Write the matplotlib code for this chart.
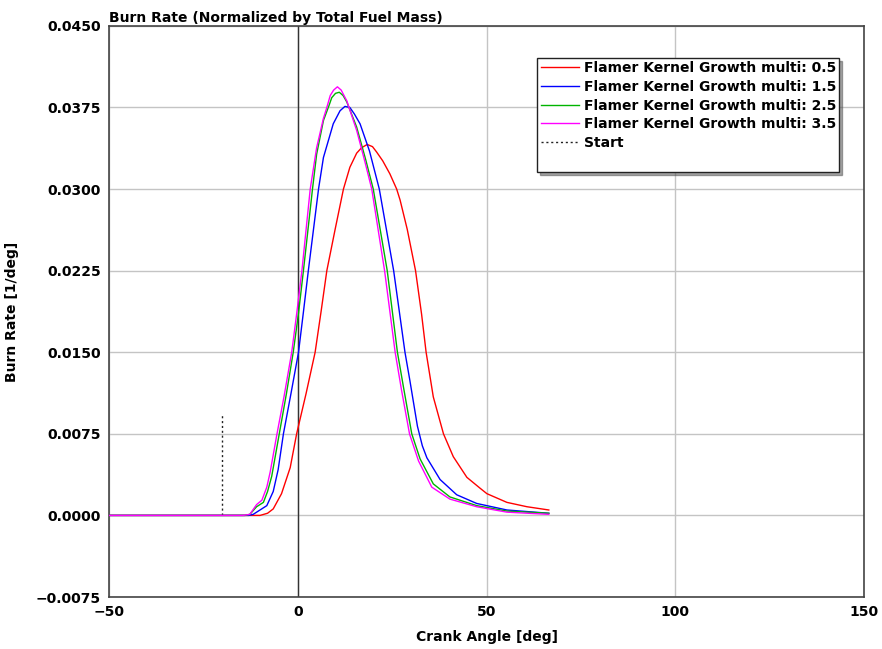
"""Burn rate vs crank angle for several flame kernel growth multipliers."""

import matplotlib

matplotlib.use("Agg")
import matplotlib.pyplot as plt
from matplotlib.lines import Line2D

# crank angle [deg] / burn rate [1/deg] per case
angle_05 = [-50, -12, -10, -8.0, -6.5, -4.3, -2.0, -0.3, 2.2, 4.6, 6.2, 7.7, 9.9, 12.1,
            13.8, 15.6, 16.9, 18.4, 19.8, 20.9, 22.5, 24.4, 26.2, 27.1, 29.0, 31.2, 32.8,
            34.0, 35.9, 38.6, 41.2, 44.8, 48.3, 50.1, 55.4, 60.7, 66.5]
rate_05 = [0.0, 0.0, 0.0, 0.0002, 0.0006, 0.0020, 0.0044, 0.0075, 0.0112, 0.0150, 0.0188,
           0.0225, 0.0263, 0.0300, 0.0320, 0.0333, 0.0338, 0.0341, 0.0339, 0.0334, 0.0326,
           0.0314, 0.0300, 0.0290, 0.0263, 0.0225, 0.0185, 0.0150, 0.0109, 0.0075, 0.0054,
           0.0035, 0.0025, 0.0020, 0.0012, 0.0008, 0.0005]

angle_15 = [-50, -13, -11.8, -10, -8.2, -6.5, -5.2, -3.8, -1.8, 0.2, 1.5, 2.8, 5.5, 6.8, 9.4,
            11.2, 12.5, 13.8, 15.0, 16.5, 19.0, 21.6, 25.4, 28.4, 29.7, 31.7, 33.0, 34.2,
            37.7, 42.1, 47.4, 55.4, 66.5]
rate_15 = [0.0, 0.0, 0.0001, 0.0005, 0.0009, 0.0022, 0.0042, 0.0075, 0.0112, 0.0150, 0.0187,
           0.0225, 0.0300, 0.0329, 0.0360, 0.0372, 0.0376, 0.0375, 0.0369, 0.0360, 0.0335,
           0.0300, 0.0225, 0.0150, 0.0124, 0.0082, 0.0064, 0.0053, 0.0033, 0.0019, 0.0011,
           0.0005, 0.0002]

angle_25 = [-50, -14, -12.7, -10.9, -9.1, -8.0, -6.9, -4.9, -3.0, -1.2, 0.2, 1.5, 3.9, 5.0,
            6.8, 8.3, 9.0, 10.0, 11.0, 12.0, 13.0, 15.6, 18.0, 20.0, 23.7, 26.4, 28.0, 30.2,
            32.4, 35.9, 40.3, 47.4, 55.4, 66.5]
rate_25 = [0.0, 0.0, 0.0001, 0.0008, 0.0012, 0.0022, 0.0036, 0.0075, 0.0112, 0.0150, 0.0186,
           0.0225, 0.0300, 0.0332, 0.0363, 0.0377, 0.0384, 0.0388, 0.0389, 0.0386, 0.0380,
           0.0357, 0.0327, 0.0300, 0.0225, 0.0150, 0.0118, 0.0075, 0.0052, 0.0029, 0.0017,
           0.0009, 0.0004, 0.0002]

angle_35 = [-50, -14.5, -12.7, -10.9, -9.5, -8.2, -7.3, -5.5, -3.6, -1.6, -0.3, 1.1, 3.3,
            5.0, 6.8, 7.7, 8.6, 9.5, 10.5, 11.5, 13.0, 15.6, 17.8, 19.6, 23.0, 25.8, 27.5,
            29.6, 32.0, 35.5, 40.3, 47.4, 55.4, 66.5]
rate_35 = [0.0, 0.0, 0.0001, 0.0010, 0.0014, 0.0026, 0.0040, 0.0075, 0.0110, 0.0150, 0.0185,
           0.0225, 0.0300, 0.0338, 0.0365, 0.0375, 0.0386, 0.0391, 0.0394, 0.0391, 0.0381,
           0.0354, 0.0325, 0.0300, 0.0225, 0.0150, 0.0115, 0.0075, 0.0050, 0.0026, 0.0015,
           0.0008, 0.0003, 0.0001]

start_angle = -20.0
start_height = 0.0094

labels = ["Flamer Kernel Growth multi: 0.5", "Flamer Kernel Growth multi: 1.5",
          "Flamer Kernel Growth multi: 2.5", "Flamer Kernel Growth multi: 3.5"]
colors = ["#ff0000", "#0000ff", "#00b400", "#ff00ff"]

x_ticks = [-50, 0, 50, 100, 150]
y_ticks = [-0.0075, 0.0, 0.0075, 0.0150, 0.0225, 0.0300, 0.0375, 0.0450]

plt.rcParams["font.family"] = ["DejaVu Sans"]
plt.rcParams["font.weight"] = "bold"

fig = plt.figure(figsize=(8.82, 6.49), dpi=100)
ax = fig.add_axes([0.1236, 0.0801, 0.856, 0.8800])

ax.grid(True, color="#c4c4c4", linewidth=1.0)
ax.set_axisbelow(True)
ax.axvline(0, color="#333333", linewidth=1.0, zorder=1)

series = [(angle_05, rate_05), (angle_15, rate_15), (angle_25, rate_25), (angle_35, rate_35)]
for (xs, ys), c in zip(series, colors):
    ax.plot(xs, ys, color=c, linewidth=1.0, zorder=3)

ax.plot([start_angle, start_angle], [0, start_height], color="#222222",
        linestyle=(0, (1.5, 2)), linewidth=1.0, zorder=2)

ax.set_xlim(-50, 150)
ax.set_ylim(-0.0075, 0.0450)
ax.set_xticks(x_ticks)
ax.set_yticks(y_ticks)
ax.set_yticklabels([f"{v:.4f}".replace("-", "\u2212") for v in y_ticks])
ax.tick_params(length=0, labelsize=10, pad=6)
for s in ax.spines.values():
    s.set_color("#444444")
    s.set_linewidth(1.2)

ax.set_xlabel("Crank Angle [deg]", fontsize=10, fontweight="bold", labelpad=8)
ax.set_ylabel("Burn Rate [1/deg]", fontsize=10, fontweight="bold", labelpad=12)
ax.set_title("Burn Rate (Normalized by Total Fuel Mass)", loc="left", fontsize=10,
             fontweight="bold", pad=3)

handles = [Line2D([], [], color=c, linewidth=1.0) for c in colors]
handles.append(Line2D([], [], color="#222222", linestyle=(0, (1.5, 2)), linewidth=1.0))
handles.append(Line2D([], [], color="none"))
leg = ax.legend(handles, labels + ["Start", " "], loc="upper left",
                bbox_to_anchor=(0.567, 0.944), fontsize=10, frameon=True, fancybox=False,
                shadow=True, handlelength=2.8, handletextpad=0.3, borderpad=0.25,
                labelspacing=0.33, borderaxespad=0)
leg.get_frame().set_edgecolor("#222222")
leg.get_frame().set_linewidth(1.0)

fig.savefig("out.png", dpi=100)
